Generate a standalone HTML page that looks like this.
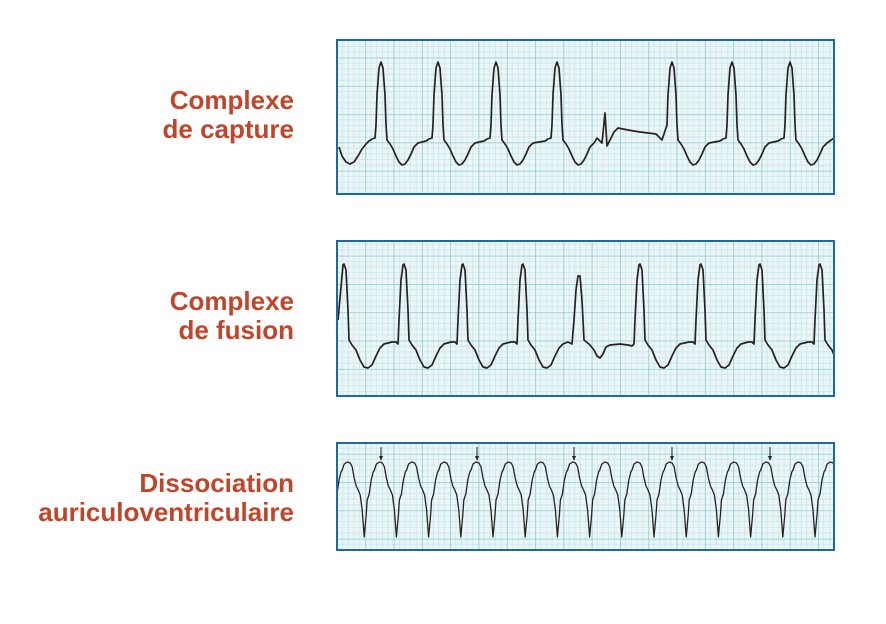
<!DOCTYPE html>
<html><head><meta charset="utf-8"><style>
body{margin:0;background:#fff;width:886px;height:624px;overflow:hidden}
.t{position:absolute;right:592px;font-family:"Liberation Sans",sans-serif;font-weight:bold;font-size:26px;color:#c0452a;text-align:right;line-height:29px;white-space:nowrap}
svg{position:absolute;left:0;top:0}
</style></head><body>
<div class="t" style="top:86px">Complexe<br>de capture</div>
<div class="t" style="top:287px">Complexe<br>de fusion</div>
<div class="t" style="top:469px">Dissociation<br>auriculoventriculaire</div>
<svg id="s" width="886" height="624" xmlns="http://www.w3.org/2000/svg">
<defs>
<pattern id="g" x="337" y="1" width="28.3" height="28.3" patternUnits="userSpaceOnUse">
<rect width="28.3" height="28.3" fill="#eaf6f8"/>
<g stroke="#cce6ea" stroke-width="0.8">
<line x1="5.66" y1="0" x2="5.66" y2="28.3"/><line x1="11.32" y1="0" x2="11.32" y2="28.3"/><line x1="16.98" y1="0" x2="16.98" y2="28.3"/><line x1="22.64" y1="0" x2="22.64" y2="28.3"/>
<line y1="5.66" x1="0" y2="5.66" x2="28.3"/><line y1="11.32" x1="0" y2="11.32" x2="28.3"/><line y1="16.98" x1="0" y2="16.98" x2="28.3"/><line y1="22.64" x1="0" y2="22.64" x2="28.3"/>
</g>
<g stroke="#8fcacc" stroke-width="1.6"><line x1="0" y1="0" x2="0" y2="28.3"/><line x1="0" y1="0" x2="28.3" y2="0"/></g>
</pattern>
<clipPath id="c1"><rect x="338" y="41" width="495" height="152"/></clipPath>
<clipPath id="c2"><rect x="338" y="242" width="495" height="153"/></clipPath>
<clipPath id="c3"><rect x="338" y="444" width="495" height="105"/></clipPath>
</defs>
<rect x="337" y="40" width="497" height="154" fill="url(#g)" stroke="#1a6aa5" stroke-width="2"/>
<rect x="337" y="241" width="497" height="155" fill="url(#g)" stroke="#1a6aa5" stroke-width="2"/>
<rect x="337" y="443" width="497" height="107" fill="url(#g)" stroke="#1a6aa5" stroke-width="2"/>
<g id="traces" fill="none" stroke="#2a2020" stroke-width="1.7" stroke-linejoin="round"></g>
</svg>
<script>
var G=document.getElementById('traces');
function add(pts,clip,w){var p=document.createElementNS('http://www.w3.org/2000/svg','polyline');
p.setAttribute('points',pts.map(function(a){return a[0].toFixed(1)+','+a[1]}).join(' '));
p.setAttribute('clip-path','url(#'+clip+')');if(w)p.setAttribute('stroke-width',w);G.appendChild(p);}
var T1=[[-12,141],[-9,139],[-6,138],[-5,125],[-4,95],[-2,68],[0,62],[2,68],[4,95],[5,125],[6,140],[9,144],[12,149],[15,156],[18,162],[21,165],[24,164],[27,160],[30,154],[33,147],[37,143]];
var pts=[[339,147],[342,156],[346,162],[350,164],[354,162],[358,156],[362,149],[366,144]];
function beat(T,x){T.forEach(function(a){pts.push([x+a[0],a[1]]);});}
[381,438,496,557].forEach(function(x){beat(T1,x)});
pts.push([597,138],[602,143],[605,113],[607,146],[610,140],[614,132],[618,128],[628,130],[640,132],[656,134],[662,140]);
beat(T1.slice(3),672);[732,790].forEach(function(x){beat(T1,x)});
pts.push([834,138]);
add(pts,'c1');
var T2=[[-12,342],[-8,342],[-6,344],[-5,320],[-3,280],[-1,265],[0,264],[2,270],[4,310],[5,340],[8,345],[12,350],[16,360],[20,367],[24,368],[28,365],[32,356],[36,348],[40,344]];
pts=[[338,320]];
beat(T2.slice(5),344);[404,463,523].forEach(function(x){beat(T2,x)});
pts.push([568,342],[572,344],[574,320],[576,290],[578,276],[580,276],[582,300],[584,340],[590,345],[594,350],[597,356],[600,358],[603,354],[606,347],[610,345],[620,344],[628,345],[632,346]);
beat(T2.slice(2),640);[701,760,820].forEach(function(x){beat(T2,x)});
add(pts,'c2');
var T3=[[0,470],[2,464],[5,462],[8,463],[10,467],[12,478],[14,486],[16,490],[18,495],[20,510],[22,537],[24,515],[25,500],[27,494],[29,480],[31,472]];
pts=[];for(var x=342-32;x<840;x+=32.2)beat(T3,x);
add(pts,'c3',1.3);
[381,477,574,672,770].forEach(function(x){add([[x,447],[x,459]],'c3',1);
var a=document.createElementNS('http://www.w3.org/2000/svg','polygon');a.setAttribute('points',(x-2)+',456 '+(x+2)+',456 '+x+',461');a.setAttribute('fill','#2a2020');a.setAttribute('stroke','none');G.appendChild(a);});
</script>
</body></html>
